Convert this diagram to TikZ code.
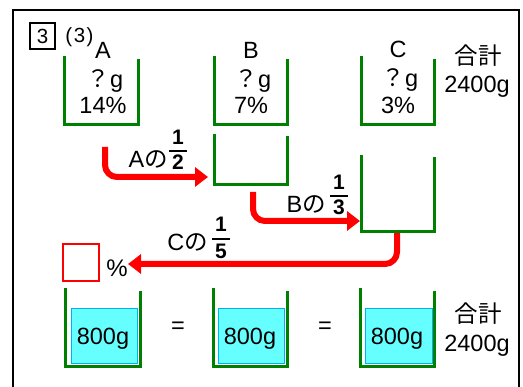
\documentclass[tikz,border=0pt]{standalone}
\usepackage{fontspec}
\setmainfont{Liberation Sans}
\newfontfamily\jp{Noto Sans CJK JP}
\usetikzlibrary{arrows.meta,calc}
\definecolor{grn}{HTML}{008000}
\definecolor{wat}{HTML}{66FFFF}
\definecolor{watb}{HTML}{00B0F0}
\begin{document}
\begin{tikzpicture}[x=1pt,y=-1pt,
  lbl/.style={font=\fontsize{23.5}{28}\selectfont, anchor=base, inner sep=0pt},
  fracnum/.style={font=\fontsize{21}{24}\selectfont\bfseries, anchor=base, inner sep=0pt},
  fracbar/.style={line width=1.8pt},
  vessel/.style={inner sep=0pt, minimum width=#1},
  wall/.style={draw=grn, line width=3pt},
  water/.style={fill=wat, draw=watb, line width=0.9pt, inner sep=0pt},
  redarr/.style={draw=red, line width=6pt, rounded corners=12pt, -{Triangle[length=13pt,width=19pt]}}]
\useasboundingbox (0,0) rectangle (523,387);
% frame
\draw[line width=2pt] (13,400) -- (13,10) -- (519,10) -- (519,400);
\node[draw, line width=1.4pt, minimum width=25pt, minimum height=26pt, inner sep=0pt,
      font=\fontsize{20.5}{24}\selectfont] (num) at (42.5,36) {3};
\node[inner sep=0pt, anchor=base, font=\fontsize{20.5}{24}\selectfont] (part) at (79.5,43) {(\kern1.5pt 3\kern1.5pt)};

% beakers (top row)
\node[vessel=73pt, minimum height=68pt] (A) at (101.5,90.5) {};
\node[vessel=72pt, minimum height=68pt] (B) at (251,90.5) {};
\node[vessel=72pt, minimum height=68pt] (C) at (398,90.5) {};
% middle
\node[vessel=72pt, minimum height=50pt] (B2) at (251,159) {};
\node[vessel=72pt, minimum height=76pt] (C2) at (398,193) {};
% bottom
\node[vessel=74pt, minimum height=78pt] (A3) at (103,327.5) {};
\node[vessel=73pt, minimum height=78pt] (B3) at (250.5,327.5) {};
\node[vessel=73pt, minimum height=78pt] (C3) at (397.5,327.5) {};
\node[water, minimum width=66pt, minimum height=55pt] (wA) at (104,335.5) {};
\node[water, minimum width=66pt, minimum height=55pt] (wB) at (251,335.5) {};
\node[water, minimum width=67pt, minimum height=55pt] (wC) at (398.5,335.5) {};

% red arrows
\coordinate (a1s) at (105,147); \coordinate (a1e) at (208,177);
\coordinate (a2s) at (253,192); \coordinate (a2e) at (360,221);
\coordinate (a3s) at (397,232); \coordinate (a3e) at (128,264);
\draw[redarr] (a1s) |- (a1e);
\draw[redarr] (a2s) |- (a2e);
\draw[redarr] (a3s) |- (a3e);

\foreach \n in {A,B,C,B2,C2,A3,B3,C3}
  \draw[wall] (\n.north west) -- (\n.south west) -- (\n.south east) -- ([yshift=-2.5pt]\n.north east);

% top labels
\node[lbl] (tA) at (103,59) {A};
\node[lbl] (qA) at (105,88) {{\jp ？}g};
\node[lbl] (pA) at (103,114) {14\%};
\node[lbl] (tB) at (251,59) {B};
\node[lbl] (qB) at (253,88) {{\jp ？}g};
\node[lbl] (pB) at (251,114) {7\%};
\node[lbl] (tC) at (398,58) {C};
\node[lbl] (qC) at (400,87) {{\jp ？}g};
\node[lbl] (pC) at (398,114) {3\%};
\node[lbl] (s1) at (478,65) {\jp 合計};
\node[lbl] (t1) at (477,93) {2400g};

% arrow labels
\node[lbl, anchor=base east] (la) at (168,168) {A{\jp の}};
\node[fracnum] (fa1) at (178,145) {1};
\draw[fracbar] (169,151) -- (187,151);
\node[fracnum] (fa2) at (178,170) {2};

\node[lbl, anchor=base east] (lb) at (326,213) {B{\jp の}};
\node[fracnum] (fb1) at (339,190) {1};
\draw[fracbar] (330,196) -- (348,196);
\node[fracnum] (fb2) at (339,215) {3};

\node[lbl, anchor=base east] (lc) at (208,251) {C{\jp の}};
\node[fracnum] (fc1) at (221,232) {1};
\draw[fracbar] (212,239) -- (230,239);
\node[fracnum] (fc2) at (221,259) {5};

% answer box
\node[draw=red, line width=1.3pt, fill=white, minimum width=36pt, minimum height=37pt, inner sep=0pt] (ans) at (81,262.5) {};
\node[inner sep=0pt, anchor=base, font=\fontsize{24}{28}\selectfont] (pct) at (117,277) {\%};

% bottom labels
\node[lbl] (mA) at (103,345) {800g};
\node[lbl] (mB) at (250,345) {800g};
\node[lbl] (mC) at (397,345) {800g};
\node[lbl, anchor=center] (eq1) at (178,328) {=};
\node[lbl, anchor=center] (eq2) at (325,328) {=};
\node[lbl] (s2) at (478,323) {\jp 合計};
\node[lbl] (t2) at (477,352) {2400g};
\end{tikzpicture}
\end{document}
